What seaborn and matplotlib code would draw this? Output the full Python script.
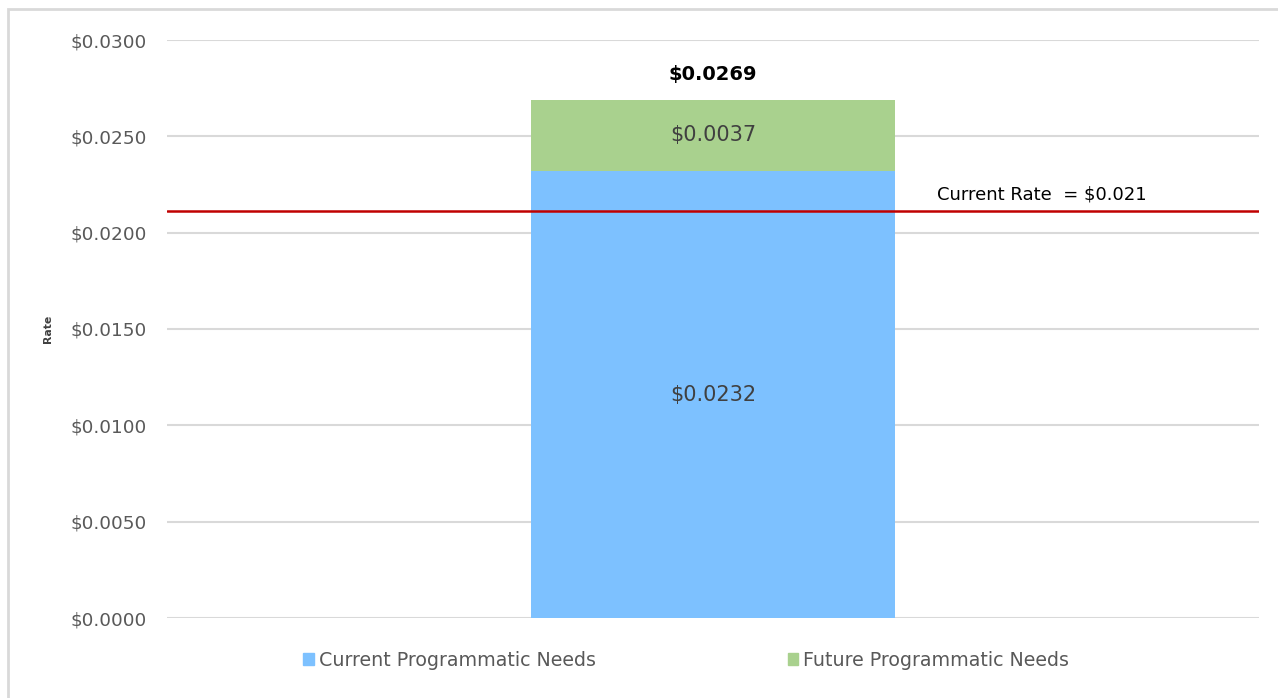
import matplotlib
matplotlib.use("Agg")
import matplotlib.pyplot as plt
import matplotlib.patches as mpatches
import seaborn as sns
import pandas as pd

categories = ["Rate"]
current_needs = [0.0232]
future_needs = [0.0037]
current_rate = 0.0211
current_rate_label = "Current Rate  = $0.021"
series_names = ["Current Programmatic Needs", "Future Programmatic Needs"]
yticks = [0.0, 0.005, 0.010, 0.015, 0.020, 0.025, 0.030]

blue = "#7DC1FF"
green = "#A9D18E"

sns.set_theme(style="white")
plt.rcParams["font.family"] = ["DejaVu Sans"]

totals = [c + f for c, f in zip(current_needs, future_needs)]
df = pd.DataFrame({"cat": categories, "current": current_needs, "total": totals})

fig = plt.figure(figsize=(12.78, 6.98), dpi=100)
ax = fig.add_axes([167/1278, 1-618/698, (1259-167)/1278, (618-40)/698])

sns.barplot(data=df, x="cat", y="total", color=green, saturation=1, width=0.334, ax=ax)
sns.barplot(data=df, x="cat", y="current", color=blue, saturation=1, width=0.334, ax=ax)
for p in ax.patches:
    p.set_edgecolor("none")

ax.set_xlim(-0.5, 0.5)
ax.set_ylim(0, 0.030)
ax.set_yticks(yticks)
ax.set_yticklabels([f"${v:.4f}" for v in yticks], color="#595959", fontsize=13.3)
ax.tick_params(axis="y", length=0, pad=14.4)
ax.set_xticks([])
ax.set_xlabel("")
ax.set_ylabel("Rate", fontsize=7.8, fontweight="bold", color="#404040", labelpad=13)
ax.yaxis.grid(True, color="#d9d9d9", linewidth=1.5)
ax.set_axisbelow(True)
for s in ax.spines.values():
    s.set_visible(False)

# red current-rate line
ax.axhline(current_rate, color="#C00000", linewidth=1.8, zorder=5)
ax.text(0.2055, current_rate + 0.0004, current_rate_label, fontsize=13, color="black",
        ha="left", va="bottom")

# data labels
for i, (c, f, t) in enumerate(zip(current_needs, future_needs, totals)):
    ax.text(i, c / 2, f"${c:.4f}", ha="center", va="center", fontsize=15, color="#404040")
    ax.text(i, c + f / 2, f"${f:.4f}", ha="center", va="center", fontsize=15, color="#404040")
    ax.text(i, t + 0.0008, f"${t:.4f}", ha="center", va="bottom", fontsize=14,
            fontweight="bold", color="black")

handles = [mpatches.Patch(color=blue, label=series_names[0]),
           mpatches.Patch(color=green, label=series_names[1])]
leg = fig.legend(handles=handles, loc="center", bbox_to_anchor=(686/1278, 1-660/698), ncol=2,
                 frameon=False, fontsize=13.7, handlelength=0.55, handleheight=0.55,
                 handletextpad=0.25, columnspacing=10.1, labelcolor="#595959")

# outer chart border
fig.patches.append(mpatches.Rectangle((8/1278, -0.05), 1.1, 1 - 9/698 + 0.05,
                                      transform=fig.transFigure, fill=False,
                                      edgecolor="#d9d9d9", linewidth=2))

fig.savefig("out.png", dpi=100)
